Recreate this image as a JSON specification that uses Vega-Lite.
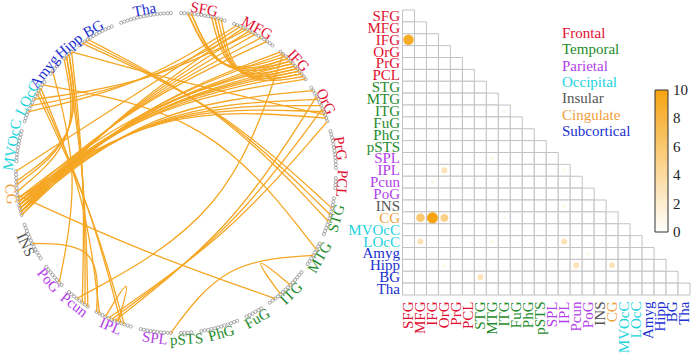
{
"$schema": "https://vega.github.io/schema/vega-lite/v6.json",
"width": 691, "height": 353, "padding": 0, "autosize": {"type": "none"},
"background": "white",
"config": {"view": {"stroke": null}, "font": "Liberation Serif"},
"datasets": {
"regions": [
{"name":"SFG","group":"Frontal","mid":7.5,"slots":[1,2,3,4,5,6,7,8,9,10,11,12,13,14]},
{"name":"MFG","group":"Frontal","mid":23.5,"slots":[17,18,19,20,21,22,23,24,25,26,27,28,29,30]},
{"name":"IFG","group":"Frontal","mid":38.5,"slots":[33,34,35,36,37,38,39,40,41,42,43,44]},
{"name":"OrG","group":"Frontal","mid":52.5,"slots":[47,48,49,50,51,52,53,54,55,56,57,58]},
{"name":"PrG","group":"Frontal","mid":66.5,"slots":[61,62,63,64,65,66,67,68,69,70,71,72]},
{"name":"PCL","group":"Frontal","mid":76.5,"slots":[75,76,77,78]},
{"name":"STG","group":"Temporal","mid":86.5,"slots":[81,82,83,84,85,86,87,88,89,90,91,92]},
{"name":"MTG","group":"Temporal","mid":98.5,"slots":[95,96,97,98,99,100,101,102]},
{"name":"ITG","group":"Temporal","mid":111.5,"slots":[105,106,107,108,109,110,111,112,113,114,115,116,117,118]},
{"name":"FuG","group":"Temporal","mid":123.5,"slots":[121,122,123,124,125,126]},
{"name":"PhG","group":"Temporal","mid":134.5,"slots":[129,130,131,132,133,134,135,136,137,138,139,140]},
{"name":"pSTS","group":"Temporal","mid":144.5,"slots":[143,144,145,146]},
{"name":"SPL","group":"Parietal","mid":153.5,"slots":[149,150,151,152,153,154,155,156,157,158]},
{"name":"IPL","group":"Parietal","mid":166.5,"slots":[161,162,163,164,165,166,167,168,169,170,171,172]},
{"name":"Pcun","group":"Parietal","mid":178.5,"slots":[175,176,177,178,179,180,181,182]},
{"name":"PoG","group":"Parietal","mid":188.5,"slots":[185,186,187,188,189,190,191,192]},
{"name":"INS","group":"Insular","mid":200.5,"slots":[195,196,197,198,199,200,201,202,203,204,205,206]},
{"name":"CG","group":"Cingulate","mid":215.5,"slots":[209,210,211,212,213,214,215,216,217,218,219,220,221,222]},
{"name":"MVOcC","group":"Occipital","mid":229.5,"slots":[225,226,227,228,229,230,231,232,233,234]},
{"name":"LOcC","group":"Occipital","mid":243.5,"slots":[237,238,239,240,241,242,243,244,245,246,247,248,249,250]},
{"name":"Amyg","group":"Subcortical","mid":252.5,"slots":[253,254,255,256]},
{"name":"Hipp","group":"Subcortical","mid":262.5,"slots":[259,260,261,262]},
{"name":"BG","group":"Subcortical","mid":271,"slots":[265,266,267,268,269,270,271,272,273,274,275,276]},
{"name":"Tha","group":"Subcortical","mid":286.5,"slots":[279,280,281,282,283,284,285,286,287,288,289,290,291,292,293,294]}
],
"chords": [
{"r":"IFG","c":"SFG","a":35,"b":3},{"r":"IFG","c":"SFG","a":37,"b":3},{"r":"IFG","c":"SFG","a":36,"b":4},
{"r":"IFG","c":"SFG","a":38,"b":4},{"r":"IFG","c":"SFG","a":39,"b":10},{"r":"IFG","c":"SFG","a":41,"b":11},
{"r":"IFG","c":"SFG","a":40,"b":11},{"r":"IFG","c":"SFG","a":42,"b":12},{"r":"IFG","c":"SFG","a":43,"b":13},
{"r":"CG","c":"IFG","a":209,"b":33},{"r":"CG","c":"IFG","a":210,"b":34},{"r":"CG","c":"IFG","a":210,"b":36},
{"r":"CG","c":"IFG","a":211,"b":37},{"r":"CG","c":"IFG","a":211,"b":39},{"r":"CG","c":"IFG","a":212,"b":40},
{"r":"CG","c":"IFG","a":212,"b":42},{"r":"CG","c":"IFG","a":213,"b":41},{"r":"CG","c":"IFG","a":213,"b":44},
{"r":"CG","c":"IFG","a":214,"b":38},
{"r":"CG","c":"MFG","a":209,"b":20},{"r":"CG","c":"MFG","a":210,"b":22},{"r":"CG","c":"MFG","a":211,"b":24},
{"r":"CG","c":"MFG","a":212,"b":26},{"r":"CG","c":"MFG","a":213,"b":28},{"r":"CG","c":"MFG","a":222,"b":19},
{"r":"CG","c":"OrG","a":210,"b":48},{"r":"CG","c":"OrG","a":211,"b":51},{"r":"CG","c":"OrG","a":212,"b":53},
{"r":"CG","c":"OrG","a":213,"b":55},{"r":"CG","c":"OrG","a":214,"b":57},
{"r":"CG","c":"ITG","a":215,"b":116},
{"r":"ITG","c":"ITG","a":110,"b":114},
{"r":"SPL","c":"MTG","a":149,"b":99},
{"r":"IPL","c":"OrG","a":166,"b":50},{"r":"IPL","c":"OrG","a":167,"b":54},{"r":"IPL","c":"OrG","a":168,"b":58},
{"r":"IPL","c":"IPL","a":165,"b":169},
{"r":"Pcun","c":"IFG","a":179,"b":34},
{"r":"INS","c":"IPL","a":200,"b":172},
{"r":"LOcC","c":"MFG","a":240,"b":18},{"r":"LOcC","c":"MFG","a":242,"b":21},{"r":"LOcC","c":"MFG","a":244,"b":23},
{"r":"LOcC","c":"MTG","a":249,"b":97},
{"r":"LOcC","c":"IPL","a":246,"b":163},{"r":"LOcC","c":"IPL","a":247,"b":164},{"r":"LOcC","c":"IPL","a":248,"b":171},
{"r":"Amyg","c":"PoG","a":254,"b":186},
{"r":"Hipp","c":"OrG","a":262,"b":56},
{"r":"Hipp","c":"Pcun","a":260,"b":175},{"r":"Hipp","c":"Pcun","a":261,"b":176},{"r":"Hipp","c":"Pcun","a":262,"b":177},
{"r":"Hipp","c":"CG","a":259,"b":216},{"r":"Hipp","c":"CG","a":260,"b":218},{"r":"Hipp","c":"CG","a":261,"b":219},
{"r":"BG","c":"STG","a":266,"b":84},{"r":"BG","c":"STG","a":267,"b":86},{"r":"BG","c":"STG","a":268,"b":88}
],
"cells": [
{"r":"SFG","cs":["SFG"]},
{"r":"MFG","cs":["SFG","MFG"]},
{"r":"IFG","cs":["SFG","MFG","IFG"]},
{"r":"OrG","cs":["SFG","MFG","IFG","OrG"]},
{"r":"PrG","cs":["SFG","MFG","IFG","OrG","PrG"]},
{"r":"PCL","cs":["SFG","MFG","IFG","OrG","PrG","PCL"]},
{"r":"STG","cs":["SFG","MFG","IFG","OrG","PrG","PCL","STG"]},
{"r":"MTG","cs":["SFG","MFG","IFG","OrG","PrG","PCL","STG","MTG"]},
{"r":"ITG","cs":["SFG","MFG","IFG","OrG","PrG","PCL","STG","MTG","ITG"]},
{"r":"FuG","cs":["SFG","MFG","IFG","OrG","PrG","PCL","STG","MTG","ITG","FuG"]},
{"r":"PhG","cs":["SFG","MFG","IFG","OrG","PrG","PCL","STG","MTG","ITG","FuG","PhG"]},
{"r":"pSTS","cs":["SFG","MFG","IFG","OrG","PrG","PCL","STG","MTG","ITG","FuG","PhG","pSTS"]},
{"r":"SPL","cs":["SFG","MFG","IFG","OrG","PrG","PCL","STG","MTG","ITG","FuG","PhG","pSTS","SPL"]},
{"r":"IPL","cs":["SFG","MFG","IFG","OrG","PrG","PCL","STG","MTG","ITG","FuG","PhG","pSTS","SPL","IPL"]},
{"r":"Pcun","cs":["SFG","MFG","IFG","OrG","PrG","PCL","STG","MTG","ITG","FuG","PhG","pSTS","SPL","IPL","Pcun"]},
{"r":"PoG","cs":["SFG","MFG","IFG","OrG","PrG","PCL","STG","MTG","ITG","FuG","PhG","pSTS","SPL","IPL","Pcun","PoG"]},
{"r":"INS","cs":["SFG","MFG","IFG","OrG","PrG","PCL","STG","MTG","ITG","FuG","PhG","pSTS","SPL","IPL","Pcun","PoG","INS"]},
{"r":"CG","cs":["SFG","MFG","IFG","OrG","PrG","PCL","STG","MTG","ITG","FuG","PhG","pSTS","SPL","IPL","Pcun","PoG","INS","CG"]},
{"r":"MVOcC","cs":["SFG","MFG","IFG","OrG","PrG","PCL","STG","MTG","ITG","FuG","PhG","pSTS","SPL","IPL","Pcun","PoG","INS","CG","MVOcC"]},
{"r":"LOcC","cs":["SFG","MFG","IFG","OrG","PrG","PCL","STG","MTG","ITG","FuG","PhG","pSTS","SPL","IPL","Pcun","PoG","INS","CG","MVOcC","LOcC"]},
{"r":"Amyg","cs":["SFG","MFG","IFG","OrG","PrG","PCL","STG","MTG","ITG","FuG","PhG","pSTS","SPL","IPL","Pcun","PoG","INS","CG","MVOcC","LOcC","Amyg"]},
{"r":"Hipp","cs":["SFG","MFG","IFG","OrG","PrG","PCL","STG","MTG","ITG","FuG","PhG","pSTS","SPL","IPL","Pcun","PoG","INS","CG","MVOcC","LOcC","Amyg","Hipp"]},
{"r":"BG","cs":["SFG","MFG","IFG","OrG","PrG","PCL","STG","MTG","ITG","FuG","PhG","pSTS","SPL","IPL","Pcun","PoG","INS","CG","MVOcC","LOcC","Amyg","Hipp","BG"]},
{"r":"Tha","cs":["SFG","MFG","IFG","OrG","PrG","PCL","STG","MTG","ITG","FuG","PhG","pSTS","SPL","IPL","Pcun","PoG","INS","CG","MVOcC","LOcC","Amyg","Hipp","BG","Tha"]}
],
"groups": [
{"g":"Frontal","k":0},{"g":"Temporal","k":1},{"g":"Parietal","k":2},{"g":"Occipital","k":3},
{"g":"Insular","k":4},{"g":"Cingulate","k":5},{"g":"Subcortical","k":6}
]
},
"resolve": {"scale": {"x": "independent", "y": "independent", "color": "independent", "size": "independent"}},
"layer": [
{
"layer": [
{
"data": {"name": "regions"},
"transform": [
{"flatten": ["slots"], "as": ["s"]},
{"calculate": "(datum.s + 0.5) * 2 * PI / 296", "as": "t"},
{"calculate": "sin(datum.t)", "as": "x"},
{"calculate": "cos(datum.t)", "as": "y"}
],
"mark": {"type": "point", "shape": "circle", "filled": false, "size": 10, "color": "#777777", "strokeWidth": 0.6, "opacity": 1},
"encoding": {
"x": {"field": "x", "type": "quantitative", "scale": {"domain": [-1.1, 3.21875], "nice": false, "zero": false}, "axis": null},
"y": {"field": "y", "type": "quantitative", "scale": {"domain": [-1.125, 1.08125], "nice": false, "zero": false}, "axis": null}
}
},
{
"data": {"name": "chords"},
"transform": [
{"window": [{"op": "row_number", "as": "id"}]},
{"calculate": "(datum.a + 0.5) * 2 * PI / 296", "as": "ta"},
{"calculate": "(datum.b + 0.5) * 2 * PI / 296", "as": "tb"},
{"calculate": "(sin(datum.ta) + sin(datum.tb)) / 2", "as": "mx"},
{"calculate": "(cos(datum.ta) + cos(datum.tb)) / 2", "as": "my"},
{"calculate": "max(sqrt(datum.mx * datum.mx + datum.my * datum.my), 0.000001)", "as": "ml"},
{"calculate": "datum.mx / 4 + 0.75 * 0.55 * datum.mx / datum.ml", "as": "kx"},
{"calculate": "datum.my / 4 + 0.75 * 0.55 * datum.my / datum.ml", "as": "ky"},
{"calculate": "sin(datum.ta)", "as": "x0"},
{"calculate": "sin(datum.tb)", "as": "x1"},
{"fold": ["x0", "kx", "x1"], "as": ["pt", "x"]},
{"calculate": "datum.pt == 'x0' ? cos(datum.ta) : (datum.pt == 'kx' ? datum.ky : cos(datum.tb))", "as": "y"},
{"calculate": "datum.pt == 'x0' ? 0 : (datum.pt == 'kx' ? 1 : 2)", "as": "o"}
],
"mark": {"type": "line", "interpolate": "basis", "color": "#F5A623", "strokeWidth": 1.3},
"encoding": {
"x": {"field": "x", "type": "quantitative"},
"y": {"field": "y", "type": "quantitative"},
"detail": {"field": "id", "type": "nominal"},
"order": {"field": "o", "type": "quantitative"}
}
},
{
"data": {"name": "regions"},
"transform": [
{"calculate": "(datum.mid + 0.5) * 2 * PI / 296", "as": "t"},
{"calculate": "1.04 * sin(datum.t)", "as": "x"},
{"calculate": "1.04 * cos(datum.t)", "as": "y"},
{"calculate": "datum.t * 180 / PI", "as": "deg"},
{"calculate": "datum.deg > 97 && datum.deg < 266 ? datum.deg - 180 : (datum.deg > 180 ? datum.deg - 360 : datum.deg)", "as": "rot"}
],
"mark": {"type": "text", "align": "center", "baseline": "middle", "fontSize": 15, "font": "Liberation Serif"},
"encoding": {
"x": {"field": "x", "type": "quantitative"},
"y": {"field": "y", "type": "quantitative"},
"text": {"field": "name"},
"angle": {"field": "rot", "type": "quantitative", "scale": null},
"color": {"field": "group", "type": "nominal", "scale": {"domain": ["Frontal","Temporal","Parietal","Occipital","Insular","Cingulate","Subcortical"], "range": ["#e01030","#1f8b2c","#b23ee8","#22d3dd","#555555","#f0a040","#2030d0"]}, "legend": null}
}
}
]
},
{
"layer": [
{
"data": {"name": "cells"},
"transform": [{"flatten": ["cs"], "as": ["c"]}],
"mark": {"type": "rect", "fill": "white", "stroke": "#c2c2c2", "strokeWidth": 1},
"encoding": {
"x": {"field": "c", "type": "nominal",
"scale": {"domain": ["SFG","MFG","IFG","OrG","PrG","PCL","STG","MTG","ITG","FuG","PhG","pSTS","SPL","IPL","Pcun","PoG","INS","CG","MVOcC","LOcC","Amyg","Hipp","BG","Tha"], "range": [402.5, 690], "paddingInner": 0, "paddingOuter": 0},
"axis": {"orient": "bottom", "offset": -58, "title": null, "ticks": false, "domain": false, "grid": false, "labelAngle": -90, "labelPadding": 6, "labelFont": "Liberation Serif", "labelFontSize": 15, "labelOverlap": false,
"labelColor": {"condition": [
{"test": "indexof(['SFG','MFG','IFG','OrG','PrG','PCL'], datum.value) >= 0", "value": "#e01030"},
{"test": "indexof(['STG','MTG','ITG','FuG','PhG','pSTS'], datum.value) >= 0", "value": "#1f8b2c"},
{"test": "indexof(['SPL','IPL','Pcun','PoG'], datum.value) >= 0", "value": "#b23ee8"},
{"test": "datum.value == 'INS'", "value": "#555555"},
{"test": "datum.value == 'CG'", "value": "#f0a040"},
{"test": "indexof(['MVOcC','LOcC'], datum.value) >= 0", "value": "#22d3dd"}
], "value": "#2030d0"}}},
"y": {"field": "r", "type": "nominal",
"scale": {"domain": ["SFG","MFG","IFG","OrG","PrG","PCL","STG","MTG","ITG","FuG","PhG","pSTS","SPL","IPL","Pcun","PoG","INS","CG","MVOcC","LOcC","Amyg","Hipp","BG","Tha"], "range": [10, 295], "paddingInner": 0, "paddingOuter": 0},
"axis": {"orient": "left", "offset": -402.5, "title": null, "ticks": false, "domain": false, "grid": false, "labelAngle": 0, "labelPadding": 3, "labelFont": "Liberation Serif", "labelFontSize": 15, "labelOverlap": false,
"labelColor": {"condition": [
{"test": "indexof(['SFG','MFG','IFG','OrG','PrG','PCL'], datum.value) >= 0", "value": "#e01030"},
{"test": "indexof(['STG','MTG','ITG','FuG','PhG','pSTS'], datum.value) >= 0", "value": "#1f8b2c"},
{"test": "indexof(['SPL','IPL','Pcun','PoG'], datum.value) >= 0", "value": "#b23ee8"},
{"test": "datum.value == 'INS'", "value": "#555555"},
{"test": "datum.value == 'CG'", "value": "#f0a040"},
{"test": "indexof(['MVOcC','LOcC'], datum.value) >= 0", "value": "#22d3dd"}
], "value": "#2030d0"}}}
}
},
{
"data": {"name": "chords"},
"transform": [{"aggregate": [{"op": "count", "as": "n"}, {"op": "valid", "field": "a", "as": "m"}], "groupby": ["r", "c"]}],
"mark": {"type": "circle", "opacity": 1},
"encoding": {
"x": {"field": "c", "type": "nominal"},
"y": {"field": "r", "type": "nominal"},
"size": {"field": "m", "type": "quantitative", "scale": {"domain": [0, 11], "range": [0, 133.1]}, "legend": null},
"color": {"field": "n", "type": "quantitative", "scale": {"domain": [0, 10], "range": ["#ffffff", "#F5A311"], "interpolate": "rgb"},
"legend": {"type": "gradient", "orient": "none", "legendX": 655, "legendY": 90, "direction": "vertical", "gradientLength": 142, "gradientThickness": 13, "title": null, "values": [0.001, 2, 4, 6, 8, 9.999], "format": ".0f", "labelFont": "Liberation Serif", "labelFontSize": 15, "labelColor": "#222222", "gradientStrokeColor": "#333333", "gradientStrokeWidth": 1, "labelOffset": 5}}
}
}
]
},
{
"data": {"name": "groups"},
"mark": {"type": "text", "align": "left", "baseline": "middle", "fontSize": 15, "font": "Liberation Serif"},
"encoding": {
"x": {"datum": 0, "type": "quantitative", "scale": {"domain": [0, 1], "range": [562, 662]}, "axis": null},
"y": {"field": "k", "type": "quantitative", "scale": {"domain": [0, 6], "range": [33, 131]}, "axis": null},
"text": {"field": "g"},
"color": {"field": "g", "type": "nominal", "scale": {"domain": ["Frontal","Temporal","Parietal","Occipital","Insular","Cingulate","Subcortical"], "range": ["#e01030","#1f8b2c","#b23ee8","#22d3dd","#555555","#f0a040","#2030d0"]}, "legend": null}
}
}
]
}
